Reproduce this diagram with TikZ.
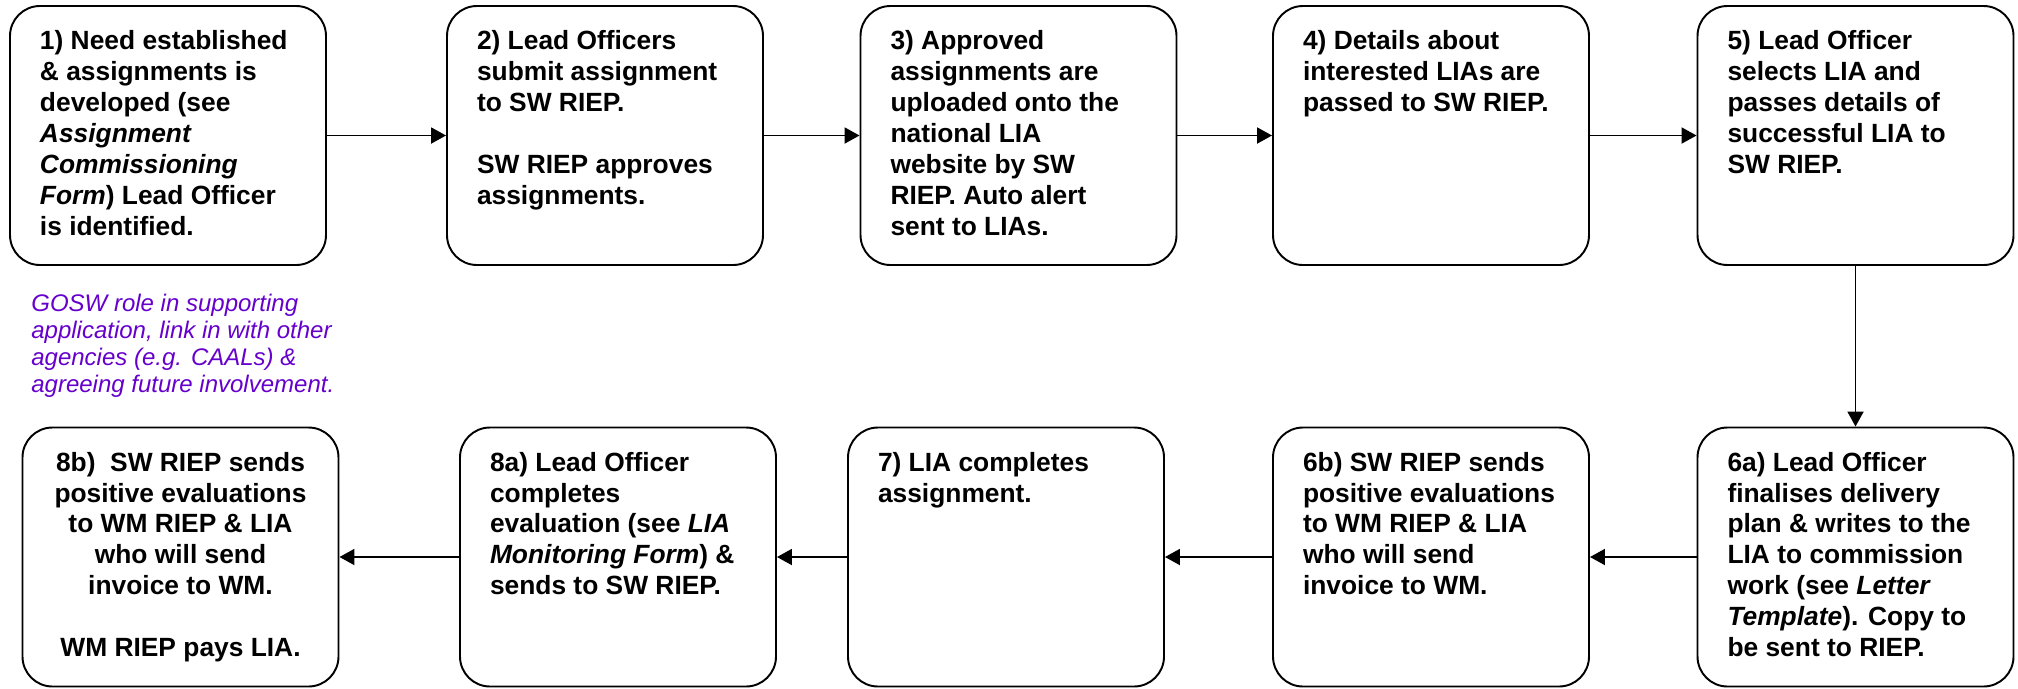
\documentclass[tikz,border=0pt]{standalone}
\usepackage{fontspec}
\setmainfont{Liberation Sans}
\usepackage{tikz}
\usetikzlibrary{arrows.meta}

\definecolor{gosw}{RGB}{102,0,204}
\newcommand{\steptext}[1]{\parbox[c][4.2cm][t]{5.12cm}{\raggedright #1}}

\begin{document}
\begin{tikzpicture}
	[
	stepbox/.style={draw, line width=1.1pt, rounded corners=0.6cm, inner xsep=0.6cm, inner ysep=0.49cm,
		font=\bfseries\fontsize{15}{17.6}\selectfont},
	aside/.style={anchor=north west, inner sep=0pt, align=left, text=gosw,
		font=\itshape\fontsize{13.66}{15.37}\selectfont},
	flow/.style={line width=1.1pt, -{Triangle[length=0.3cm,width=0.32cm]}},
	]
		\useasboundingbox (0,0) rectangle (40.36,-13.76);
		
		% top row
		\node[stepbox] (s1) at 	( 3.36, -2.71 ) {\steptext{1) Need established\\ \& assignments is\\ developed (see\\ \textit{Assignment}\\ \textit{Commissioning}\\ \textit{Form}) Lead Officer\\ is identified.}};
		\node[stepbox] (s2) at 	(12.10, -2.71 ) {\steptext{2) Lead Officers\\ submit assignment\\ to SW RIEP.\\[17.6pt] SW RIEP approves\\ assignments.}};
		\node[stepbox] (s3) at 	(20.37, -2.71 ) {\steptext{3) Approved\\ assignments are\\ uploaded onto the\\ national LIA\\ website by SW\\ RIEP. Auto alert\\ sent to LIAs.}};
		\node[stepbox] (s4) at 	(28.62, -2.71 ) {\steptext{4) Details about\\ interested LIAs are\\ passed to SW RIEP.}};
		\node[stepbox] (s5) at 	(37.11, -2.71 ) {\steptext{5) Lead Officer\\ selects LIA and\\ passes details of\\ successful LIA to\\ SW RIEP.}};
		
		% GOSW remark
		\node[aside] (gosw) at 	( 0.62, -5.87 ) {GOSW role in supporting\\ application, link in with other\\ agencies (e.g. CAALs) \&\\ agreeing future involvement.};
		
		% bottom row
		\node[stepbox] (s6a) at (37.11,-11.14 ) {\steptext{6a) Lead Officer\\ finalises delivery\\ plan \& writes to the\\ LIA to commission\\ work (see \textit{Letter}\\ \textit{Template}). Copy to\\ be sent to RIEP.}};
		\node[stepbox] (s6b) at (28.62,-11.14 ) {\steptext{6b) SW RIEP sends\\ positive evaluations\\ to WM RIEP \& LIA\\ who will send\\ invoice to WM.}};
		\node[stepbox] (s7) at 	(20.12,-11.14 ) {\steptext{7) LIA completes\\ assignment.}};
		\node[stepbox] (s8a) at (12.36,-11.14 ) {\steptext{8a) Lead Officer\\ completes\\ evaluation (see \textit{LIA}\\ \textit{Monitoring Form}) \&\\ sends to SW RIEP.}};
		\node[stepbox] (s8b) at ( 3.61,-11.14 ) {\steptext{\centering 8b)\ \ SW RIEP sends\\ positive evaluations\\ to WM RIEP \& LIA\\ who will send\\ invoice to WM.\\[17.6pt] WM RIEP pays LIA.}};
		
		\foreach \from/\to in {s1/s2,s2/s3,s3/s4,s4/s5,s5/s6a,s6a/s6b,s6b/s7,s7/s8a,s8a/s8b} \draw[flow] (\from) -- (\to);
		
	\end{tikzpicture}
\end{document}
